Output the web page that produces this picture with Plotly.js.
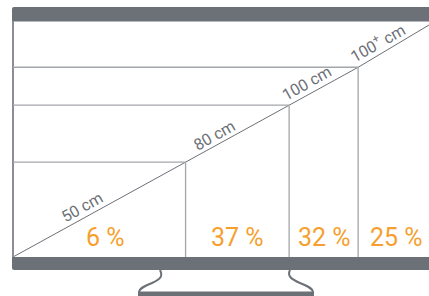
<!DOCTYPE html>
<html><head><meta charset="utf-8">
<script src="https://cdn.plot.ly/plotly-3.0.1.min.js"></script>
<style>html,body{margin:0;padding:0;background:#fff}#c{width:429px;height:296px}</style>
</head><body><div id="c"></div>
<script>
// data
var sizeLabels = ['50 cm', '80 cm', '100 cm', '100<sup>+</sup> cm'];
var diagonalsCm = [50, 80, 100];
var shares = [6, 37, 32, 25];
var shareLabels = ['6 %', '37 %', '32 %', '25 %'];

// 16:9 screen geometry from diagonal
var kW = 16 / Math.sqrt(337), kH = 9 / Math.sqrt(337);
var widths = diagonalsCm.map(function(d){return d*kW;});
var heights = diagonalsCm.map(function(d){return d*kH;});
var XMAX = 416/3.96, YMAX = 236/3.87;

var GRAY = '#6c7077', LINE = '#a3a6aa', ORANGE = '#f69f2e';
var L = 13, T = 21, PW = 416, PH = 236;
function px(x){return (x - L)/PW;}
function py(y){return (T + PH - y)/PH;}

var shapes = [];
shapes.push({type:'path', xref:'paper', yref:'paper', fillcolor:GRAY, line:{width:0},
  path:'M'+px(12)+','+py(21.5)+' L'+px(12)+','+py(9)+' Q'+px(12)+','+py(7)+' '+px(14)+','+py(7)+' L'+px(430)+','+py(7)+' L'+px(430)+','+py(21.5)+' Z'});
shapes.push({type:'path', xref:'paper', yref:'paper', fillcolor:GRAY, line:{width:0},
  path:'M'+px(12)+','+py(257)+' L'+px(430)+','+py(257)+' L'+px(430)+','+py(270)+' L'+px(14)+','+py(270)+' Q'+px(12)+','+py(270)+' '+px(12)+','+py(268)+' Z'});
shapes.push({type:'line', xref:'paper', yref:'paper', x0:px(13), x1:px(13), y0:py(21), y1:py(257), line:{color:'#8b8e93', width:2}});
shapes.push({type:'path', xref:'paper', yref:'paper', line:{color:GRAY, width:2},
  path:'M'+px(160)+','+py(270)+' C'+px(163)+','+py(276)+' '+px(161)+','+py(279)+' '+px(152)+','+py(283)+' C'+px(142)+','+py(287)+' '+px(139)+','+py(289)+' '+px(139)+','+py(292)});
shapes.push({type:'path', xref:'paper', yref:'paper', line:{color:GRAY, width:2},
  path:'M'+px(290)+','+py(270)+' C'+px(287)+','+py(276)+' '+px(291)+','+py(279)+' '+px(300)+','+py(283)+' C'+px(310)+','+py(287)+' '+px(313)+','+py(289)+' '+px(313)+','+py(292)});
shapes.push({type:'rect', xref:'paper', yref:'paper', x0:px(138), x1:px(314), y0:py(291.5), y1:py(297), fillcolor:GRAY, line:{width:0}});

for (var i=0;i<widths.length;i++){
  shapes.push({type:'line', xref:'x', yref:'y', x0:0, x1:widths[i], y0:heights[i], y1:heights[i], line:{color:LINE, width:1.3}});
  shapes.push({type:'line', xref:'x', yref:'y', x0:widths[i], x1:widths[i], y0:0, y1:heights[i], line:{color:LINE, width:1.3}});
}

var diagX = [0].concat(widths).concat([XMAX]);
var diagY = [0].concat(heights).concat([(257-25)/3.87]);
var traces = [{x:diagX, y:diagY, mode:'lines', line:{color:GRAY, width:1}, hoverinfo:'skip', cliponaxis:false}];

var annotations = [];
var bounds = [0].concat(widths).concat([XMAX]);
var shifts = [6, 0, 1, 3];
for (var j=0;j<shareLabels.length;j++){
  annotations.push({x:(bounds[j]+bounds[j+1])/2, y:(257-237)/3.87, xref:'x', yref:'y', text:shareLabels[j], showarrow:false,
    xshift:shifts[j], font:{family:'Roboto', size:25, color:ORANGE, weight:400}, xanchor:'center', yanchor:'middle'});
}
var ang = -Math.atan(9/16)*180/Math.PI;
var labPos = [[81.5,207.5],[214,135],[306,83],[378,43]];
for (var k=0;k<sizeLabels.length;k++){
  annotations.push({x:px(labPos[k][0]), y:py(labPos[k][1]), xref:'paper', yref:'paper', text:sizeLabels[k], showarrow:false,
    textangle:ang, font:{family:'Roboto', size:16, color:GRAY, weight:400}, xanchor:'center', yanchor:'middle'});
}

var layout = {width:429, height:296, margin:{l:L, r:0, t:T, b:296-T-PH, pad:0},
  paper_bgcolor:'#fff', plot_bgcolor:'#fff', showlegend:false,
  xaxis:{range:[0,XMAX], visible:false, fixedrange:true},
  yaxis:{range:[0,YMAX], visible:false, fixedrange:true},
  shapes:shapes, annotations:annotations};
Plotly.newPlot('c', traces, layout, {displayModeBar:false, staticPlot:true});
</script></body></html>
